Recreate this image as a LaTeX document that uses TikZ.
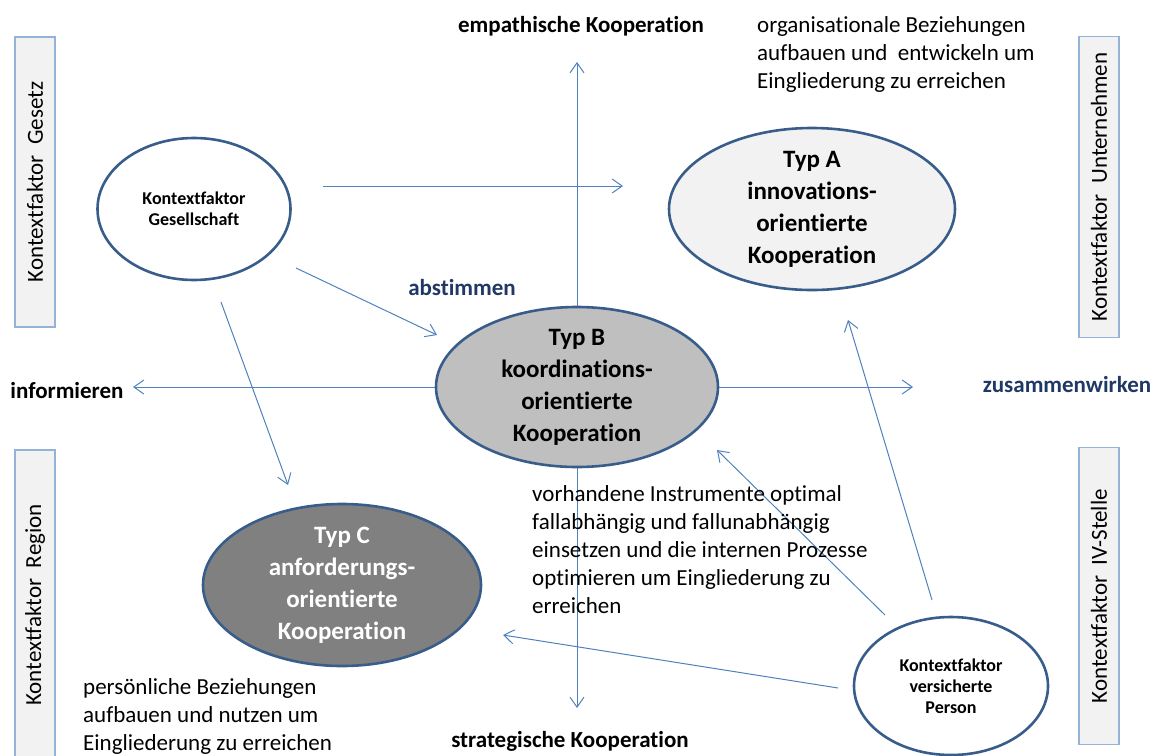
\documentclass[tikz,border=0pt]{standalone}
\usepackage{fontspec}
\setmainfont{Carlito}[Ligatures=NoCommon]
\usetikzlibrary{shapes.geometric,arrows.meta}

\definecolor{randblau}{RGB}{56,93,138}
\definecolor{pfeilblau}{RGB}{79,129,189}
\definecolor{kastenblau}{RGB}{149,179,215}
\definecolor{kastengrau}{RGB}{242,242,242}
\definecolor{dunkelblau}{RGB}{31,56,100}

\begin{document}
\begin{tikzpicture}[x=1pt,y=-1pt,
  typ/.style={ellipse,draw=randblau,line width=2.6pt,inner xsep=0pt,inner ysep=-20pt,
    align=center,font=\fontsize{25}{32}\selectfont\bfseries},
  faktor/.style={ellipse,draw=randblau,line width=2.6pt,fill=white,inner sep=0pt,
    align=center,font=\fontsize{18}{21}\selectfont\bfseries},
  seite/.style={draw=kastenblau,fill=kastengrau,line width=1.2pt,rotate=90,
    minimum height=40pt,inner sep=0pt,font=\fontsize{23}{28}\selectfont},
  pfeil/.style={draw=pfeilblau,line width=1pt,-{Straight Barb[length=10pt,width=14pt]}},
  fett/.style={font=\fontsize{23}{28}\selectfont\bfseries,inner sep=0pt},
  fliess/.style={font=\fontsize{23}{28}\selectfont,align=left,inner sep=0pt,anchor=north west}]
\clip (0,0) rectangle (1153,755);

% Kontextfaktoren am Rand
\node[seite,minimum width=290pt] (gesetz) at (35,182) {Kontextfaktor\ \ Gesetz};
\node[seite,minimum width=310pt] (region) at (35,605) {Kontextfaktor\ \ Region};
\node[seite,minimum width=301pt] (unternehmen) at (1099,187) {Kontextfaktor\ \ Unternehmen};
\node[seite,minimum width=297pt] (ivstelle) at (1099,596) {Kontextfaktor\ \ IV-Stelle};

% Typen
\node[typ,fill=kastengrau,minimum width=286pt,minimum height=162pt] (typA) at (812,209)
  {Typ A\\innovations-\\orientierte\\Kooperation};
\node[typ,fill=black!25,minimum width=282pt,minimum height=160pt] (typB) at (577,387)
  {Typ B\\koordinations-\\orientierte\\Kooperation};
\node[typ,fill=black!50,text=white,minimum width=278pt,minimum height=162pt] (typC) at (342,585)
  {Typ C\\anforderungs-\\orientierte\\Kooperation};

\node[faktor,minimum width=193pt,minimum height=142pt] (gesell) at (194,209)
  {Kontextfaktor\\Gesellschaft};
\node[faktor,minimum width=194pt,minimum height=138pt] (person) at (951,686)
  {Kontextfaktor\\versicherte\\Person};

% Achsen
\coordinate (achseN) at (577,62);
\coordinate (achseS) at (577,708);
\coordinate (achseW) at (133,387);
\coordinate (achseE) at (913,387);
\draw[pfeil] (typB) -- (achseN);
\draw[pfeil] (typB) -- (achseS);
\draw[pfeil] (typB) -- (achseW);
\draw[pfeil] (typB) -- (achseE);

% Einfluss der Kontextfaktoren
\draw[pfeil] ([shift={(129,-23)}]gesell.center) -- ([shift={(-189,-23)}]typA.center);
\draw[pfeil] ([shift={(102,59)}]gesell.center) -- ([shift={(-140,-52)}]typB.center);
\draw[pfeil] ([shift={(27,93)}]gesell.center) -- ([shift={(-54,-100)}]typC.center);
\draw[pfeil] ([shift={(-19,-86)}]person.center) -- ([shift={(36,111)}]typA.center);
\draw[pfeil] ([shift={(-66,-71)}]person.center) -- ([shift={(140,63)}]typB.center);
\draw[pfeil] ([shift={(-113,2)}]person.center) -- ([shift={(161,50)}]typC.center);

% Beschriftungen
\node[fett] (empath) at (581,26) {empathische Kooperation};
\node[fett] (strat) at (570,741) {strategische Kooperation};
\node[fett] (info) at (67,391) {informieren};
\node[fett,text=dunkelblau] (abst) at (462,288) {abstimmen};
\node[fett,text=dunkelblau] (zusam) at (1067,385) {zusammenwirken};

\node[fliess] (textA) at (757,16) {organisationale Beziehungen\\aufbauen und\ \ entwickeln um\\Eingliederung zu erreichen};
\node[fliess] (textB) at (532,485) {vorhandene Instrumente optimal\\fallabhängig und fallunabhängig\\einsetzen und die internen Prozesse\\optimieren um Eingliederung zu\\erreichen};
\node[fliess] (textC) at (83,678) {persönliche Beziehungen\\aufbauen und nutzen um\\Eingliederung zu erreichen};
\end{tikzpicture}
\end{document}
